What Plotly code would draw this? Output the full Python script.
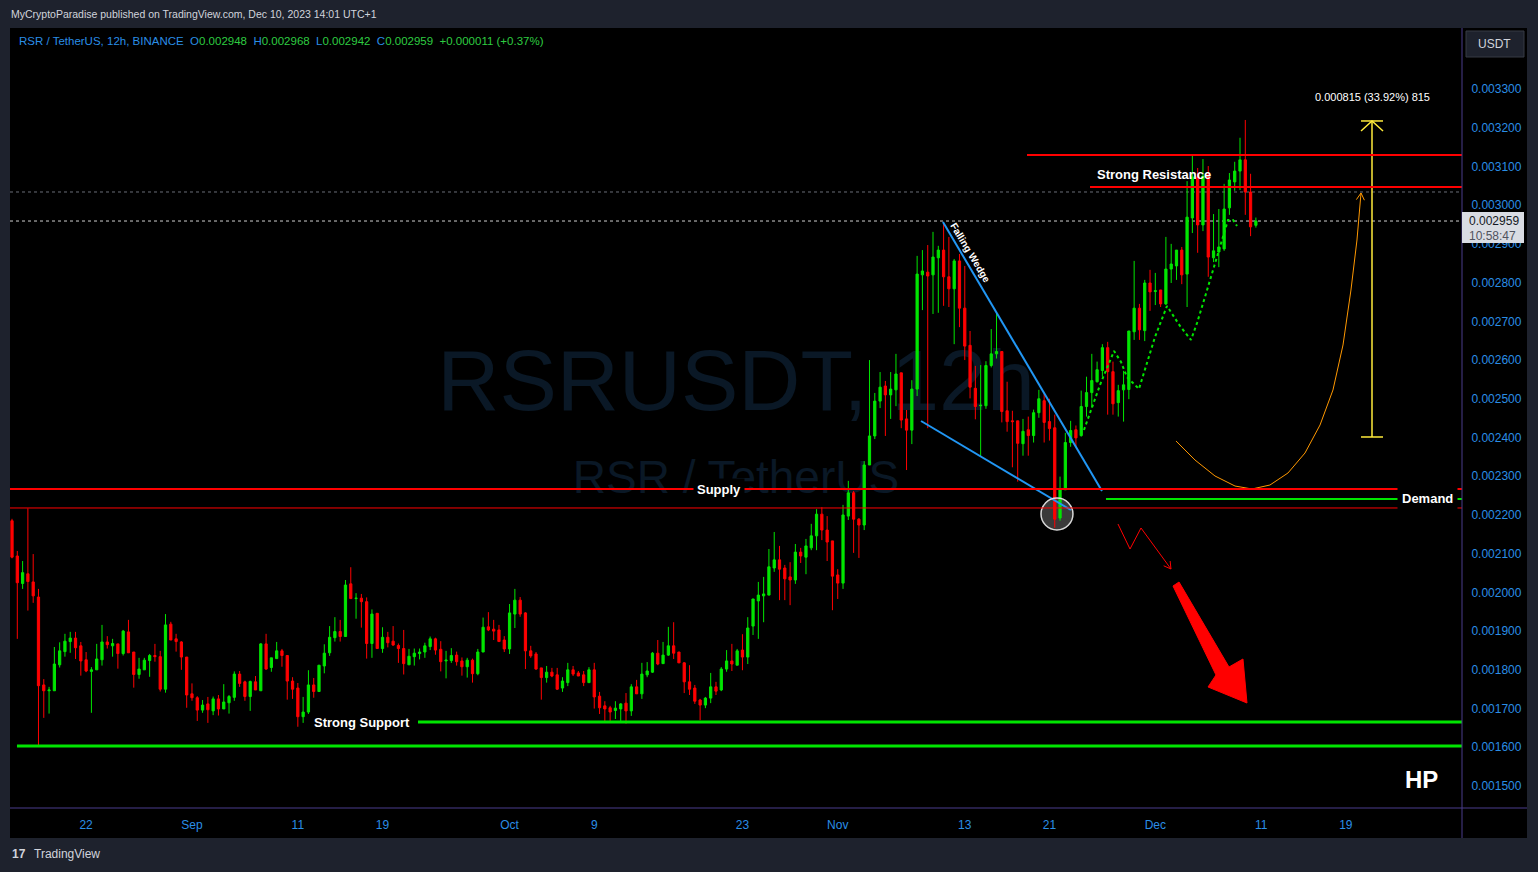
import plotly.graph_objects as go
import pandas as pd

# ---------------- candle data (12h bars, RSR/USDT) ----------------
opens = [
    0.002185, 0.002094, 0.002023, 0.002048, 0.002027, 0.001988, 0.001761, 0.001746, 0.001746, 0.001813,
    0.001847, 0.001873, 0.001882, 0.001862, 0.001826, 0.001796, 0.001800, 0.001826, 0.001872, 0.001862,
    0.001867, 0.001842, 0.001898, 0.001846, 0.001788, 0.001800, 0.001824, 0.001837, 0.001834, 0.001750,
    0.001918, 0.001880, 0.001872, 0.001833, 0.001738, 0.001728, 0.001696, 0.001712, 0.001694, 0.001725,
    0.001699, 0.001715, 0.001729, 0.001789, 0.001769, 0.001731, 0.001769, 0.001746, 0.001867, 0.001806,
    0.001829, 0.001849, 0.001837, 0.001771, 0.001753, 0.001679, 0.001691, 0.001761, 0.001744, 0.001810,
    0.001844, 0.001883, 0.001899, 0.001886, 0.002022, 0.001984, 0.001985, 0.001976, 0.001868, 0.001946,
    0.001855, 0.001884, 0.001874, 0.001863, 0.001855, 0.001813, 0.001834, 0.001842, 0.001846, 0.001860,
    0.001880, 0.001853, 0.001823, 0.001824, 0.001838, 0.001823, 0.001808, 0.001825, 0.001790, 0.001846,
    0.001911, 0.001905, 0.001903, 0.001877, 0.001854, 0.001944, 0.001980, 0.001947, 0.001849, 0.001841,
    0.001805, 0.001780, 0.001794, 0.001787, 0.001753, 0.001767, 0.001800, 0.001792, 0.001787, 0.001767,
    0.001800, 0.001732, 0.001707, 0.001702, 0.001695, 0.001699, 0.001714, 0.001694, 0.001756, 0.001738,
    0.001787, 0.001794, 0.001843, 0.001816, 0.001838, 0.001862, 0.001846, 0.001818, 0.001769, 0.001753,
    0.001722, 0.001709, 0.001727, 0.001756, 0.001748, 0.001802, 0.001823, 0.001812, 0.001851, 0.001833,
    0.001913, 0.001978, 0.001991, 0.001993, 0.002063, 0.002084, 0.002063, 0.002040, 0.002032, 0.002104,
    0.002091, 0.002115, 0.002146, 0.002202, 0.002161, 0.002133, 0.002045, 0.002024, 0.002197, 0.002257,
    0.002189, 0.002174, 0.002329, 0.002404, 0.002494, 0.002533, 0.002510, 0.002523, 0.002567, 0.002448,
    0.002419, 0.002525, 0.002820, 0.002827, 0.002820, 0.002864, 0.002884, 0.002815, 0.002784, 0.002856,
    0.002734, 0.002638, 0.002527, 0.002482, 0.002482, 0.002586, 0.002616, 0.002622, 0.002469, 0.002443,
    0.002443, 0.002384, 0.002420, 0.002405, 0.002464, 0.002495, 0.002441, 0.002425, 0.002192, 0.002265,
    0.002387, 0.002420, 0.002405, 0.002480, 0.002516, 0.002544, 0.002573, 0.002632, 0.002570, 0.002490,
    0.002523, 0.002524, 0.002673, 0.002734, 0.002676, 0.002799, 0.002777, 0.002781, 0.002745, 0.002835,
    0.002843, 0.002884, 0.002822, 0.002967, 0.003073, 0.002949, 0.003078, 0.002864, 0.002879, 0.002887,
    0.002993, 0.003060, 0.003088, 0.003117, 0.003034, 0.002948,
]
highs = [
    0.002190, 0.002107, 0.002081, 0.002217, 0.002099, 0.002009, 0.001776, 0.001756, 0.001859, 0.001871,
    0.001893, 0.001898, 0.001898, 0.001872, 0.001846, 0.001807, 0.001867, 0.001916, 0.001887, 0.001880,
    0.001867, 0.001903, 0.001929, 0.001846, 0.001831, 0.001831, 0.001841, 0.001867, 0.001849, 0.001944,
    0.001924, 0.001893, 0.001874, 0.001833, 0.001765, 0.001732, 0.001722, 0.001730, 0.001731, 0.001735,
    0.001763, 0.001735, 0.001796, 0.001797, 0.001772, 0.001772, 0.001784, 0.001869, 0.001893, 0.001831,
    0.001872, 0.001854, 0.001837, 0.001781, 0.001766, 0.001730, 0.001799, 0.001779, 0.001812, 0.001866,
    0.001913, 0.001936, 0.001929, 0.002032, 0.002065, 0.001998, 0.001996, 0.001987, 0.001956, 0.001946,
    0.001910, 0.001898, 0.001913, 0.001868, 0.001903, 0.001854, 0.001855, 0.001855, 0.001870, 0.001886,
    0.001883, 0.001874, 0.001849, 0.001856, 0.001847, 0.001832, 0.001831, 0.001829, 0.001854, 0.001935,
    0.001949, 0.001929, 0.001916, 0.001887, 0.001970, 0.002009, 0.001988, 0.001949, 0.001862, 0.001846,
    0.001805, 0.001810, 0.001805, 0.001805, 0.001781, 0.001818, 0.001810, 0.001797, 0.001797, 0.001807,
    0.001818, 0.001743, 0.001719, 0.001707, 0.001719, 0.001714, 0.001740, 0.001763, 0.001774, 0.001818,
    0.001820, 0.001846, 0.001877, 0.001872, 0.001911, 0.001923, 0.001846, 0.001820, 0.001812, 0.001761,
    0.001725, 0.001730, 0.001792, 0.001769, 0.001807, 0.001851, 0.001867, 0.001854, 0.001892, 0.001936,
    0.001983, 0.002027, 0.002040, 0.002112, 0.002156, 0.002120, 0.002071, 0.002078, 0.002125, 0.002115,
    0.002138, 0.002177, 0.002215, 0.002220, 0.002197, 0.002133, 0.002060, 0.002226, 0.002288, 0.002262,
    0.002192, 0.002339, 0.002600, 0.002515, 0.002569, 0.002546, 0.002569, 0.002616, 0.002567, 0.002471,
    0.002548, 0.002869, 0.002884, 0.002897, 0.002931, 0.002895, 0.002954, 0.002918, 0.002861, 0.002874,
    0.002843, 0.002675, 0.002585, 0.002587, 0.002597, 0.002680, 0.002724, 0.002622, 0.002544, 0.002469,
    0.002443, 0.002448, 0.002454, 0.002472, 0.002523, 0.002516, 0.002500, 0.002459, 0.002299, 0.002412,
    0.002443, 0.002431, 0.002521, 0.002557, 0.002616, 0.002596, 0.002641, 0.002647, 0.002596, 0.002536,
    0.002572, 0.002675, 0.002856, 0.002745, 0.002807, 0.002833, 0.002825, 0.002781, 0.002918, 0.002900,
    0.002884, 0.002892, 0.003062, 0.003127, 0.003096, 0.003119, 0.003101, 0.002977, 0.002990, 0.003055,
    0.003083, 0.003112, 0.003174, 0.003220, 0.003081, 0.002968,
]
lows = [
    0.002088, 0.001880, 0.002009, 0.001953, 0.001973, 0.001604, 0.001676, 0.001687, 0.001746, 0.001806,
    0.001834, 0.001844, 0.001828, 0.001785, 0.001794, 0.001689, 0.001800, 0.001811, 0.001855, 0.001834,
    0.001803, 0.001837, 0.001844, 0.001754, 0.001777, 0.001800, 0.001782, 0.001821, 0.001744, 0.001741,
    0.001877, 0.001847, 0.001800, 0.001702, 0.001720, 0.001668, 0.001689, 0.001663, 0.001683, 0.001682,
    0.001699, 0.001687, 0.001720, 0.001756, 0.001720, 0.001694, 0.001748, 0.001746, 0.001800, 0.001795,
    0.001829, 0.001808, 0.001723, 0.001725, 0.001653, 0.001663, 0.001686, 0.001728, 0.001744, 0.001791,
    0.001836, 0.001873, 0.001873, 0.001886, 0.001984, 0.001932, 0.001909, 0.001829, 0.001831, 0.001855,
    0.001844, 0.001858, 0.001862, 0.001818, 0.001788, 0.001813, 0.001811, 0.001827, 0.001831, 0.001851,
    0.001839, 0.001796, 0.001778, 0.001818, 0.001811, 0.001785, 0.001780, 0.001767, 0.001786, 0.001846,
    0.001900, 0.001877, 0.001873, 0.001846, 0.001841, 0.001908, 0.001937, 0.001802, 0.001831, 0.001800,
    0.001723, 0.001767, 0.001781, 0.001748, 0.001743, 0.001758, 0.001784, 0.001784, 0.001758, 0.001767,
    0.001700, 0.001686, 0.001663, 0.001663, 0.001673, 0.001663, 0.001661, 0.001681, 0.001738, 0.001725,
    0.001781, 0.001792, 0.001812, 0.001816, 0.001836, 0.001828, 0.001818, 0.001740, 0.001735, 0.001712,
    0.001670, 0.001701, 0.001714, 0.001735, 0.001745, 0.001795, 0.001797, 0.001812, 0.001799, 0.001815,
    0.001890, 0.001880, 0.001923, 0.001993, 0.002053, 0.001980, 0.001980, 0.001967, 0.002022, 0.002076,
    0.002047, 0.002109, 0.002109, 0.002135, 0.002081, 0.001954, 0.001983, 0.002009, 0.002187, 0.002102,
    0.002089, 0.002161, 0.002329, 0.002396, 0.002476, 0.002404, 0.002448, 0.002481, 0.002424, 0.002316,
    0.002383, 0.002507, 0.002729, 0.002424, 0.002719, 0.002722, 0.002740, 0.002737, 0.002641, 0.002685,
    0.002600, 0.002501, 0.002447, 0.002350, 0.002474, 0.002581, 0.002604, 0.002439, 0.002415, 0.002323,
    0.002286, 0.002353, 0.002353, 0.002387, 0.002451, 0.002387, 0.002392, 0.002167, 0.002185, 0.002265,
    0.002376, 0.002376, 0.002402, 0.002454, 0.002477, 0.002542, 0.002557, 0.002459, 0.002459, 0.002454,
    0.002441, 0.002499, 0.002652, 0.002652, 0.002649, 0.002727, 0.002742, 0.002737, 0.002742, 0.002799,
    0.002807, 0.002796, 0.002737, 0.002928, 0.002877, 0.002933, 0.002815, 0.002853, 0.002840, 0.002882,
    0.002975, 0.003037, 0.003039, 0.002975, 0.002920, 0.002942,
]
closes = [
    0.002091, 0.002025, 0.002051, 0.002028, 0.001991, 0.001759, 0.001746, 0.001748, 0.001815, 0.001849,
    0.001874, 0.001882, 0.001857, 0.001823, 0.001797, 0.001800, 0.001828, 0.001872, 0.001865, 0.001868,
    0.001842, 0.001900, 0.001844, 0.001788, 0.001802, 0.001825, 0.001837, 0.001834, 0.001750, 0.001916,
    0.001877, 0.001873, 0.001833, 0.001735, 0.001728, 0.001696, 0.001709, 0.001697, 0.001725, 0.001699,
    0.001717, 0.001731, 0.001789, 0.001765, 0.001731, 0.001770, 0.001748, 0.001867, 0.001802, 0.001831,
    0.001849, 0.001837, 0.001771, 0.001750, 0.001679, 0.001691, 0.001761, 0.001744, 0.001812, 0.001843,
    0.001884, 0.001899, 0.001886, 0.002019, 0.001984, 0.001985, 0.001976, 0.001868, 0.001944, 0.001855,
    0.001884, 0.001870, 0.001864, 0.001855, 0.001816, 0.001835, 0.001843, 0.001846, 0.001862, 0.001880,
    0.001851, 0.001821, 0.001825, 0.001837, 0.001821, 0.001808, 0.001825, 0.001790, 0.001846, 0.001910,
    0.001903, 0.001900, 0.001873, 0.001854, 0.001947, 0.001980, 0.001944, 0.001849, 0.001836, 0.001802,
    0.001780, 0.001794, 0.001784, 0.001750, 0.001771, 0.001800, 0.001789, 0.001784, 0.001767, 0.001800,
    0.001730, 0.001702, 0.001699, 0.001691, 0.001701, 0.001712, 0.001694, 0.001756, 0.001738, 0.001789,
    0.001797, 0.001843, 0.001815, 0.001838, 0.001862, 0.001843, 0.001818, 0.001769, 0.001750, 0.001719,
    0.001709, 0.001727, 0.001756, 0.001745, 0.001802, 0.001823, 0.001815, 0.001849, 0.001833, 0.001908,
    0.001983, 0.001993, 0.001996, 0.002066, 0.002084, 0.002060, 0.002035, 0.002032, 0.002104, 0.002094,
    0.002120, 0.002146, 0.002202, 0.002161, 0.002130, 0.002042, 0.002024, 0.002200, 0.002257, 0.002189,
    0.002174, 0.002329, 0.002404, 0.002494, 0.002530, 0.002510, 0.002525, 0.002564, 0.002445, 0.002419,
    0.002525, 0.002822, 0.002830, 0.002817, 0.002866, 0.002884, 0.002815, 0.002784, 0.002856, 0.002734,
    0.002636, 0.002530, 0.002480, 0.002483, 0.002586, 0.002616, 0.002622, 0.002467, 0.002441, 0.002441,
    0.002385, 0.002416, 0.002405, 0.002464, 0.002500, 0.002439, 0.002423, 0.002189, 0.002265, 0.002387,
    0.002418, 0.002399, 0.002480, 0.002516, 0.002547, 0.002575, 0.002632, 0.002570, 0.002487, 0.002521,
    0.002536, 0.002675, 0.002734, 0.002678, 0.002799, 0.002776, 0.002779, 0.002745, 0.002835, 0.002848,
    0.002884, 0.002820, 0.002969, 0.003073, 0.002949, 0.003075, 0.002866, 0.002882, 0.002892, 0.002990,
    0.003065, 0.003088, 0.003117, 0.003034, 0.002944, 0.002959,
]
bar_times = pd.date_range("2023-08-15 00:00", periods=len(closes), freq="12h")

# ---------------- axes ----------------
x_tick_dates = ["2023-08-22", "2023-09-01", "2023-09-11", "2023-09-19", "2023-10-01", "2023-10-09",
                "2023-10-23", "2023-11-01", "2023-11-13", "2023-11-21", "2023-12-01", "2023-12-11",
                "2023-12-19"]
x_tick_labels = ["22", "Sep", "11", "19", "Oct", "9", "23", "Nov", "13", "21", "Dec", "11", "19"]
price_ticks = [0.0015, 0.0016, 0.0017, 0.0018, 0.0019, 0.0020, 0.0021, 0.0022, 0.0023, 0.0024,
               0.0025, 0.0026, 0.0027, 0.0028, 0.0029, 0.0030, 0.0031, 0.0032, 0.0033]
price_tick_labels = [f"{v:.6f}" for v in price_ticks]
x_range = ["2023-08-14 19:26", "2023-12-29 23:17"]
y_range = [0.0014432, 0.0034575]

# ---------------- key levels ----------------
supply_level = 0.002267
supply_floor = 0.002218
strong_support = 0.001665
strong_support_from = "2023-09-22 08:24"
base_support = 0.001603
base_support_from = "2023-08-15 11:15"
resistance_top = 0.0031296
resistance_top_from = "2023-11-18 21:07"
resistance_bottom = 0.0030469
resistance_bottom_from = "2023-11-24 19:55"
demand_level = 0.0022412
demand_from = "2023-11-26 08:10"
last_price = 0.002959
prev_level = 0.003034

# ---------------- drawings ----------------
wedge_upper_t = ["2023-11-10 22:33", "2023-11-25 23:03"]
wedge_upper_p = [0.0029565, 0.0022618]
wedge_lower_t = ["2023-11-08 20:53", "2023-11-23 00:43"]
wedge_lower_p = [0.0024426, 0.0022128]
wedge_label_t, wedge_label_p = "2023-11-13 11:46", 0.0028765

circle_t = ["2023-11-20 04:50", "2023-11-23 05:17"]
circle_p = [0.0021611, 0.0022438]

green_path_t = ["2023-11-24 06:14", "2023-11-25 18:32", "2023-11-27 02:24", "2023-11-27 18:14",
                "2023-11-28 07:41", "2023-11-29 10:59", "2023-11-30 05:04", "2023-11-30 23:16",
                "2023-12-02 02:26", "2023-12-03 07:53", "2023-12-04 08:52", "2023-12-04 22:32",
                "2023-12-05 16:36", "2023-12-06 08:29", "2023-12-07 07:12", "2023-12-07 20:49",
                "2023-12-08 08:10", "2023-12-08 17:15"]
green_path_p = [0.0024194, 0.0025356, 0.0026234, 0.0025950, 0.0025562, 0.0025253, 0.0025924, 0.0026595,
                0.0027396, 0.0026880, 0.0026518, 0.0026957, 0.0027628, 0.0028248, 0.0029152, 0.0029617,
                0.0029617, 0.0029462]

orange_t = ["2023-12-02 22:52", "2023-12-04 17:57", "2023-12-06 15:17", "2023-12-08 12:39",
            "2023-12-10 03:07", "2023-12-11 19:55", "2023-12-13 12:43", "2023-12-15 03:22",
            "2023-12-16 13:26", "2023-12-17 18:45", "2023-12-18 17:30", "2023-12-19 11:32",
            "2023-12-20 01:12", "2023-12-20 10:20"]
orange_p = [0.0023910, 0.0023419, 0.0023006, 0.0022747, 0.0022670, 0.0022773, 0.0023083, 0.0023600,
            0.0024323, 0.0025227, 0.0026389, 0.0027809, 0.0029100, 0.0030314]
orange_head_t = ["2023-12-19 23:53", "2023-12-20 10:20", "2023-12-20 18:00"]
orange_head_p = [0.0030144, 0.0030314, 0.0030128]

zigzag_t = ["2023-11-27 11:19", "2023-11-28 14:38", "2023-11-29 15:33", "2023-12-02 11:30"]
zigzag_p = [0.0021766, 0.0021120, 0.0021663, 0.0020604]
zigzag_head_t = ["2023-12-02 09:36", "2023-12-02 11:30", "2023-12-01 18:58"]
zigzag_head_p = [0.0020810, 0.0020604, 0.0020687]

big_arrow_t = ["2023-12-02 16:05", "2023-12-06 17:30", "2023-12-05 23:31", "2023-12-09 15:50",
               "2023-12-09 06:45", "2023-12-07 23:03", "2023-12-03 05:46", "2023-12-02 16:05"]
big_arrow_p = [0.0020165, 0.0017867, 0.0017557, 0.0017143, 0.0018280, 0.0018073, 0.0020268, 0.0020165]

measure_t = "2023-12-21 11:15"
measure_lo, measure_hi = 0.0024013, 0.0032174
measure_bar_t = ["2023-12-20 10:20", "2023-12-22 12:14"]
measure_head_p = 0.0031915
measure_label_p = 0.0032793
measure_label = "0.000815 (33.92%) 815"

supply_label_t = "2023-10-20 18:45"
support_label_t = "2023-09-17 01:30"
resistance_label_t, resistance_label_p = "2023-11-30 21:00", 0.0030779
demand_label_t = "2023-12-26 16:00"
hp_label_t, hp_label_p = "2023-12-26 04:35", 0.0015181
blue_mark_t = "2023-10-01 16:50"

# ---------------- styling ----------------
GREEN = "#00e600"
RED = "#ff0000"
BLUE_TXT = "#2a8ee6"
VAL_GREEN = "#2ecc40"
WEDGE_BLUE = "#2196f3"
WM = "#0a1826"
FRAME = "#1e222d"
SPINE = "#4a3c8c"
SANS = "Liberation Sans, Arial, sans-serif"

W, H = 1538, 872
PL, PR, PT, PB = 10, 1462, 28, 808


def pxx(px):
    return (px - PL) / (PR - PL)


def pxy(py):
    return (PB - py) / (PB - PT)


fig = go.Figure()

fig.add_trace(go.Candlestick(
    x=bar_times, open=opens, high=highs, low=lows, close=closes,
    increasing=dict(line=dict(color=GREEN, width=1), fillcolor=GREEN),
    decreasing=dict(line=dict(color=RED, width=1), fillcolor=RED),
    whiskerwidth=0, hoverinfo="skip", showlegend=False,
))


def line_trace(xs, ys, color, width, dash="solid", fill=None):
    fig.add_trace(go.Scatter(
        x=xs, y=ys, mode="lines", line=dict(color=color, width=width, dash=dash),
        fill=fill, fillcolor=color if fill else None,
        hoverinfo="skip", showlegend=False,
    ))


# falling wedge
line_trace(wedge_upper_t, wedge_upper_p, WEDGE_BLUE, 2)
line_trace(wedge_lower_t, wedge_lower_p, WEDGE_BLUE, 2)
# projected paths
line_trace(green_path_t, green_path_p, GREEN, 2, dash="dot")
line_trace(orange_t, orange_p, "#ff9800", 1)
line_trace(orange_head_t, orange_head_p, "#ff9800", 1)
line_trace(zigzag_t, zigzag_p, RED, 1)
line_trace(zigzag_head_t, zigzag_head_p, RED, 1)
line_trace(big_arrow_t, big_arrow_p, RED, 1, fill="toself")
# measure tool
YEL = "#ffeb3b"
line_trace([measure_t, measure_t], [measure_lo, measure_hi], YEL, 1.5)
line_trace(measure_bar_t, [measure_hi, measure_hi], YEL, 1.5)
line_trace(measure_bar_t, [measure_lo, measure_lo], YEL, 1.5)
line_trace([measure_bar_t[0], measure_t, measure_bar_t[1]], [measure_head_p, measure_hi, measure_head_p], YEL, 1.5)
# small blue mark on supply line
fig.add_trace(go.Scatter(x=[blue_mark_t], y=[supply_level], mode="markers",
                         marker=dict(symbol="line-ew", size=8, line=dict(color="#2962ff", width=2)),
                         hoverinfo="skip", showlegend=False))

shapes = []
# chart frame (black) and watermark
shapes.append(dict(type="rect", xref="paper", yref="paper", x0=pxx(10), x1=pxx(1527), y0=pxy(838), y1=pxy(28),
                   fillcolor="#000000", line=dict(width=0), layer="below"))
shapes.append(dict(type="rect", xref="paper", yref="paper", x0=0, x1=1, y0=pxy(372) - 0.06, y1=pxy(372) + 0.06,
                   fillcolor="rgba(0,0,0,0)", line=dict(width=0), layer="below",
                   label=dict(text="RSRUSDT, 12h", textposition="middle center",
                              font=dict(size=86, color=WM, family=SANS))))
shapes.append(dict(type="rect", xref="paper", yref="paper", x0=0, x1=1, y0=pxy(473) - 0.04, y1=pxy(473) + 0.04,
                   fillcolor="rgba(0,0,0,0)", line=dict(width=0), layer="below",
                   label=dict(text="RSR / TetherUS", textposition="middle center",
                              font=dict(size=46, color=WM, family=SANS))))
# circle
shapes.append(dict(type="circle", xref="x", yref="y", x0=circle_t[0], x1=circle_t[1], y0=circle_p[0],
                   y1=circle_p[1], fillcolor="#3a3a3a", line=dict(width=0), layer="below"))
shapes.append(dict(type="circle", xref="x", yref="y", x0=circle_t[0], x1=circle_t[1], y0=circle_p[0],
                   y1=circle_p[1], fillcolor="rgba(0,0,0,0)", line=dict(color="#d8d8d8", width=1.5),
                   layer="above"))
# horizontal levels
shapes.append(dict(type="line", xref="paper", yref="y", x0=0, x1=1, y0=supply_level, y1=supply_level,
                   line=dict(color=RED, width=2), layer="above"))
shapes.append(dict(type="line", xref="paper", yref="y", x0=0, x1=1, y0=supply_floor, y1=supply_floor,
                   line=dict(color=RED, width=1), layer="above"))
shapes.append(dict(type="line", xref="x", yref="y", x0=strong_support_from, x1=x_range[1], y0=strong_support,
                   y1=strong_support, line=dict(color=GREEN, width=3), layer="above"))
shapes.append(dict(type="line", xref="x", yref="y", x0=base_support_from, x1=x_range[1], y0=base_support,
                   y1=base_support, line=dict(color=GREEN, width=3), layer="above"))
shapes.append(dict(type="line", xref="x", yref="y", x0=resistance_top_from, x1=x_range[1], y0=resistance_top,
                   y1=resistance_top, line=dict(color=RED, width=2), layer="above"))
shapes.append(dict(type="line", xref="x", yref="y", x0=resistance_bottom_from, x1=x_range[1],
                   y0=resistance_bottom, y1=resistance_bottom, line=dict(color=RED, width=2), layer="above"))
shapes.append(dict(type="line", xref="x", yref="y", x0=demand_from, x1=x_range[1], y0=demand_level,
                   y1=demand_level, line=dict(color=GREEN, width=2), layer="above"))
shapes.append(dict(type="line", xref="paper", yref="y", x0=0, x1=1, y0=prev_level, y1=prev_level,
                   line=dict(color="#6a6d78", width=1, dash="dot"), layer="below"))
shapes.append(dict(type="line", xref="paper", yref="y", x0=0, x1=1, y0=last_price, y1=last_price,
                   line=dict(color="#cfcfcf", width=1, dash="dot"), layer="below"))
# spines
shapes.append(dict(type="line", xref="paper", yref="paper", x0=1, x1=1, y0=pxy(838), y1=pxy(28),
                   line=dict(color=SPINE, width=1), layer="above"))
shapes.append(dict(type="line", xref="paper", yref="paper", x0=0, x1=pxx(1527), y0=0, y1=0,
                   line=dict(color=SPINE, width=1), layer="above"))
# price tag and USDT button
shapes.append(dict(type="rect", xref="paper", yref="paper", x0=pxx(1462), x1=pxx(1524), y0=pxy(243),
                   y1=pxy(212), fillcolor="#d9dce3", line=dict(width=0), layer="above"))
shapes.append(dict(type="rect", xref="paper", yref="paper", x0=pxx(1466), x1=pxx(1524), y0=pxy(57),
                   y1=pxy(31), fillcolor=FRAME, line=dict(color="#363a45", width=1), layer="above"))

ann = []


def txt(text, x, y, size, color, xref="x", yref="y", bold=False, family=SANS, xanchor="center",
        bg=None, pad=1, angle=0):
    ann.append(dict(text=f"<b>{text}</b>" if bold else text, x=x, y=y, xref=xref, yref=yref,
                    showarrow=False, xanchor=xanchor, yanchor="middle",
                    font=dict(size=size, color=color, family=family),
                    bgcolor=bg, borderpad=pad, textangle=angle))


txt("Supply", supply_label_t, supply_level, 13, "white", bold=True, bg="#000000", pad=3)
txt("Strong Support", support_label_t, strong_support, 13, "white", bold=True)
txt("Strong Resistance", resistance_label_t, resistance_label_p, 13, "white", bold=True)
txt("Demand", demand_label_t, demand_level, 13, "white", bold=True, bg="#000000", pad=4)
txt("HP", hp_label_t, hp_label_p, 24, "white", bold=True)
txt(measure_label, measure_t, measure_label_p, 11, "white")
txt("Falling Wedge", wedge_label_t, wedge_label_p, 10, "white", bold=True, angle=59)

# header texts
txt("MyCryptoParadise published on TradingView.com, Dec 10, 2023 14:01 UTC+1", pxx(9), pxy(14), 10.5,
    "#d1d4dc", xref="paper", yref="paper", xanchor="left")
sp = "\u00a0"
hdr = (f"<span style='color:{BLUE_TXT}'>RSR / TetherUS, 12h, BINANCE{sp}{sp}O</span>"
       f"<span style='color:{VAL_GREEN}'>{opens[-1]:.6f}</span>{sp}{sp}"
       f"<span style='color:{BLUE_TXT}'>H</span><span style='color:{VAL_GREEN}'>{highs[-1]:.6f}</span>{sp}{sp}"
       f"<span style='color:{BLUE_TXT}'>L</span><span style='color:{VAL_GREEN}'>{lows[-1]:.6f}</span>{sp}{sp}"
       f"<span style='color:{BLUE_TXT}'>C</span><span style='color:{VAL_GREEN}'>{closes[-1]:.6f}</span>{sp}{sp}"
       f"<span style='color:{VAL_GREEN}'>+{closes[-1] - opens[-1]:.6f} (+0.37%)</span>")
txt(hdr, pxx(17), pxy(41), 11.5, BLUE_TXT, xref="paper", yref="paper", xanchor="left")
txt("USDT", pxx(1476), pxy(44), 12, "#d1d4dc", xref="paper", yref="paper", xanchor="left")
txt(f"{last_price:.6f}", pxx(1467), pxy(221), 12, "#131722", xref="paper", yref="paper", xanchor="left")
txt("10:58:47", pxx(1467), pxy(236), 12, "#50535e", xref="paper", yref="paper", xanchor="left")
txt("<b>17</b>", pxx(10), pxy(854), 12, "#d1d4dc", xref="paper", yref="paper", xanchor="left")
txt("TradingView", pxx(32), pxy(854), 12, "#d1d4dc", xref="paper", yref="paper", xanchor="left")

fig.update_layout(
    width=W, height=H,
    margin=dict(l=PL, r=W - PR, t=PT, b=H - PB, pad=0),
    paper_bgcolor=FRAME, plot_bgcolor="#000000",
    shapes=shapes, annotations=ann, boxgap=0.4,
    showlegend=False, hovermode=False,
    font=dict(family=SANS),
)
fig.update_xaxes(type="date", range=x_range, tickvals=x_tick_dates, ticktext=x_tick_labels,
                 showgrid=False, zeroline=False, showline=False, ticks="outside", ticklen=6,
                 tickcolor="rgba(0,0,0,0)", tickfont=dict(size=12, color=BLUE_TXT, family=SANS),
                 rangeslider=dict(visible=False), fixedrange=True)
fig.update_yaxes(range=y_range, side="right", tickvals=price_ticks, ticktext=price_tick_labels,
                 showgrid=False, zeroline=False, showline=False, ticks="outside", ticklen=6,
                 tickcolor="rgba(0,0,0,0)", tickfont=dict(size=12, color=BLUE_TXT, family=SANS),
                 fixedrange=True)

fig.write_html("out.html", include_plotlyjs=True, config={"displayModeBar": False},
               post_script="document.body.style.margin='0px';document.body.style.overflow='hidden';")
